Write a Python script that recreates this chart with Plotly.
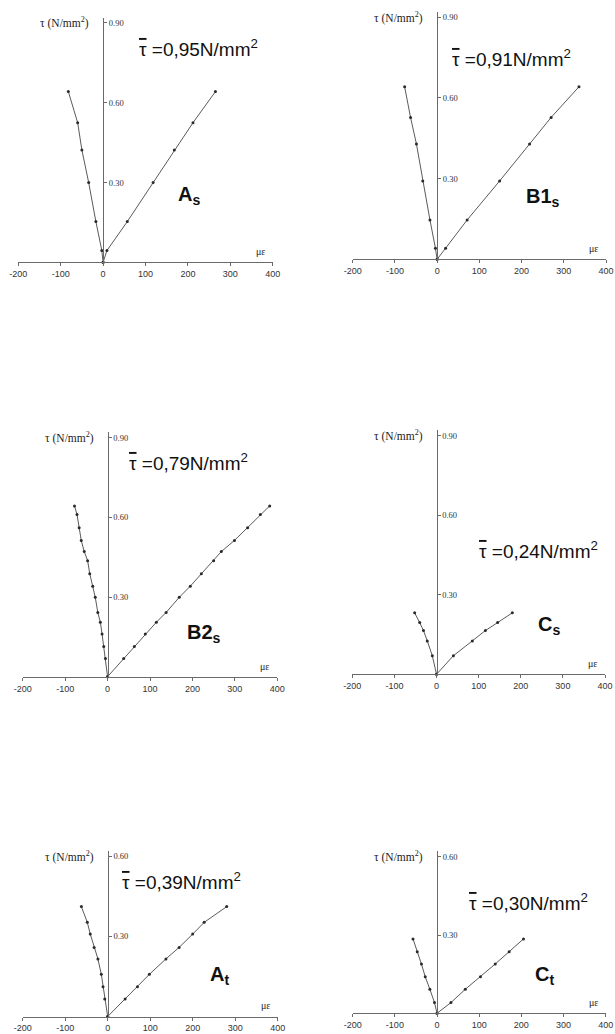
import plotly.graph_objects as go

W, H = 615, 1034

# ---------------- data ----------------
x_ticks = [-200, -100, 0, 100, 200, 300, 400]
x_tick_labels = ["-200", "-100", "0", "100", "200", "300", "400"]

as_tau = [0, 0.044, 0.153, 0.300, 0.422, 0.525, 0.642]
as_pos = [0, 9, 57, 118, 168, 212, 265]
as_neg = [0, -3, -17, -34, -50, -60, -82]

b1_tau = [0, 0.041, 0.146, 0.291, 0.428, 0.527, 0.641]
b1_pos = [0, 20, 71, 148, 219, 270, 336]
b1_neg = [0, -4, -17, -34, -49, -63, -77]

b2_tau = [0, 0.069, 0.114, 0.161, 0.205, 0.242, 0.299, 0.341, 0.388, 0.437, 0.471, 0.513, 0.561, 0.611, 0.643]
b2_pos = [0, 38, 63, 89, 115, 138, 169, 195, 221, 250, 268, 299, 330, 360, 382]
b2_neg = [0, -5, -9, -13, -17, -23, -29, -35, -42, -47, -55, -62, -67, -72, -78]

cs_tau = [0, 0.070, 0.126, 0.165, 0.195, 0.232]
cs_pos = [0, 40, 85, 116, 145, 180]
cs_neg = [0, -10, -22, -31, -40, -52]

at_tau = [0, 0.066, 0.112, 0.158, 0.216, 0.259, 0.309, 0.353, 0.412]
at_pos = [0, 41, 70, 98, 137, 168, 200, 227, 280]
at_neg = [0, -7, -11, -15, -23, -32, -41, -48, -62]

ct_tau = [0, 0.041, 0.092, 0.140, 0.189, 0.236, 0.285]
ct_pos = [0, 33, 67, 103, 138, 171, 205]
ct_neg = [0, -6, -17, -28, -37, -47, -57]

panel_names = ["A", "B1", "B2", "C", "A", "C"]
panel_subs = ["s", "s", "s", "s", "t", "t"]
mean_tau = ["0,95", "0,91", "0,79", "0,24", "0,39", "0,30"]
y_tick_sets = [[0.30, 0.60, 0.90]] * 4 + [[0.30, 0.60]] * 2
y_tick_label_sets = [["0.30", "0.60", "0.90"]] * 4 + [["0.30", "0.60"]] * 2

series = [
    (as_tau, as_pos, as_neg),
    (b1_tau, b1_pos, b1_neg),
    (b2_tau, b2_pos, b2_neg),
    (cs_tau, cs_pos, cs_neg),
    (at_tau, at_pos, at_neg),
    (ct_tau, ct_pos, ct_neg),
]

# ---------------- layout (pixel geometry of each panel) ----------------
# (x px of -200, x px of 400, y px of tau=0, px per unit tau, y top of axis in data units)
geom = [
    (18.3, 272.7, 262.3, 265.9, 0.92),
    (352.7, 606.0, 259.3, 269.2, 0.92),
    (22.7, 277.3, 676.7, 265.6, 0.92),
    (352.3, 605.0, 674.3, 265.1, 0.92),
    (22.7, 277.7, 1016.5, 266.7, 0.62),
    (352.7, 605.7, 1013.3, 261.0, 0.62),
]
# text placement in data units: (mean-tau x, y), (panel label x, y)
text_pos = [
    ((81, 0.806), (172, 0.253)),
    ((31, 0.748), (205, 0.231)),
    ((46, 0.810), (183, 0.161)),
    ((95, 0.469), (236, 0.183)),
    ((29, 0.508), (237, 0.154)),
    ((71, 0.428), (228, 0.145)),
]

LINE = "#5a5a5a"
DOT = "#2a2a2a"
AXIS = "#6a6a6a"
TXT = "#333333"
SERIF = "Liberation Serif"
SANS = "Liberation Sans"

fig = go.Figure()
layout = dict(
    template="none",
    width=W, height=H,
    margin=dict(l=0, r=0, t=0, b=0, pad=0),
    paper_bgcolor="white", plot_bgcolor="rgba(0,0,0,0)",
    showlegend=False,
)
annotations = []

for i, ((tau, pos, neg), g) in enumerate(zip(series, geom)):
    k = "" if i == 0 else str(i + 1)
    xa, ya = "x" + k, "y" + k
    x0, x1, ybot, sy, ytop = g
    dom_x = [x0 / W, x1 / W]
    ytop_px = ybot - ytop * sy
    dom_y = [1 - ybot / H, 1 - ytop_px / H]
    yaxis_pos = dom_x[0] + (0 - (-200)) / 600 * (dom_x[1] - dom_x[0])

    for xs in (pos, neg):
        fig.add_trace(go.Scatter(
            x=xs, y=tau, xaxis=xa, yaxis=ya, mode="lines+markers",
            line=dict(color=LINE, width=1),
            marker=dict(color=DOT, size=3),
            hoverinfo="skip", cliponaxis=False,
        ))

    layout["xaxis" + k] = dict(
        domain=dom_x, range=[-200, 400], anchor=ya, automargin=False,
        showgrid=False, zeroline=False, showline=True, linecolor=AXIS, linewidth=1,
        ticks="outside", ticklen=3, tickcolor=AXIS, tickwidth=1,
        tickvals=x_ticks, ticktext=x_tick_labels, color=TXT,
        tickfont=dict(family=SANS, size=9, color=TXT),
        ticklabelstandoff=0,
    )
    layout["yaxis" + k] = dict(
        domain=dom_y, range=[0, ytop], anchor="free", position=yaxis_pos,
        side="right", automargin=False,
        showgrid=False, zeroline=False, showline=True, linecolor=AXIS, linewidth=1,
        ticks="outside", ticklen=3, tickcolor=AXIS, tickwidth=1,
        tickvals=y_tick_sets[i], ticktext=y_tick_label_sets[i], color=TXT,
        tickfont=dict(family=SERIF, size=8.5, color=TXT),
    )

    top_tick = y_tick_sets[i][-1]
    annotations.append(dict(
        xref=xa, yref=ya, x=0, y=top_tick, xanchor="right", yanchor="middle",
        xshift=-12, text="τ (N/mm<sup>2</sup>)", showarrow=False,
        font=dict(family=SERIF, size=11.5, color="#222"),
    ))
    annotations.append(dict(
        xref=xa, yref=ya, x=372, y=0, xanchor="center", yanchor="bottom",
        yshift=3, text="με", showarrow=False,
        font=dict(family=SERIF, size=10, color="#222"),
    ))
    (mx, my), (lx, ly) = text_pos[i]
    annotations.append(dict(
        xref=xa, yref=ya, x=mx, y=my, xanchor="left", yanchor="middle",
        text="<span style='text-decoration:overline'>τ</span> ="
             + mean_tau[i] + "N/mm<sup>2</sup>", showarrow=False,
        font=dict(family=SANS, size=19, color="#111"),
    ))
    annotations.append(dict(
        xref=xa, yref=ya, x=lx, y=ly, xanchor="left", yanchor="middle",
        text="<b>" + panel_names[i] + "<sub>" + panel_subs[i] + "</sub></b>",
        showarrow=False,
        font=dict(family=SANS, size=20, color="#111"),
    ))

layout["annotations"] = annotations
fig.update_layout(**layout)
fig.write_html(
    "out.html",
    config={"displayModeBar": False},
    post_script="document.body.style.margin='0';document.body.style.overflow='hidden';",
)
